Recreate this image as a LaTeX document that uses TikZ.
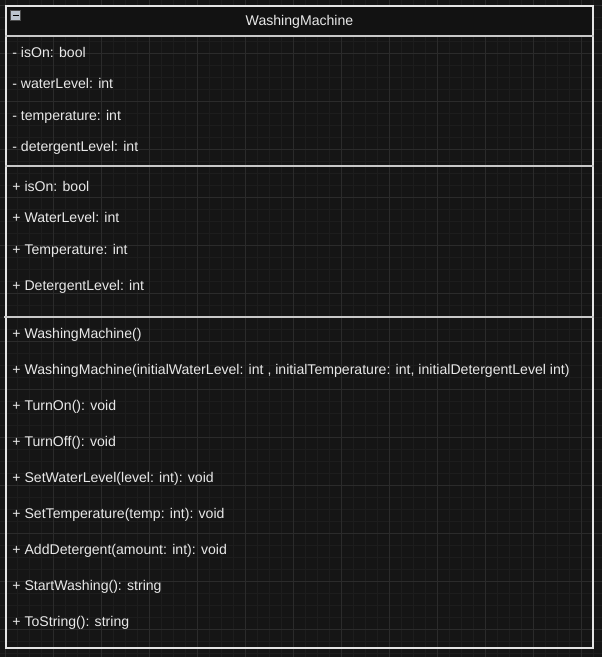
\documentclass[tikz,border=0pt]{standalone}
\usepackage{fontspec}
\setmainfont{Liberation Sans}
\usepackage{xcolor}
\definecolor{canvas}{HTML}{151515}
\definecolor{minorgrid}{HTML}{1D1D1D}
\definecolor{majorgrid}{HTML}{2B2B2B}
\definecolor{headfill}{HTML}{121212}
\definecolor{frame}{HTML}{E4E4E4}
\definecolor{divider}{HTML}{C8C8C8}
\definecolor{memtext}{HTML}{E8E8E8}
\definecolor{knob}{HTML}{BCC4CE}

\begin{document}
\begin{tikzpicture}[x=1pt,y=-1pt,
		member/.style={anchor=base west,inner sep=0pt,yshift=-5.5pt,text=memtext,font=\fontsize{14.1}{16}\selectfont},
		classname/.style={anchor=base,inner sep=0pt,yshift=-5.5pt,text=memtext,font=\fontsize{14.1}{16}\selectfont},
		divline/.style={divider,line width=1.6pt}]
		\fill [canvas] (0,0) rectangle (602,657);
		\draw [minorgrid,step=12pt,shift={(5,5)}] (-5,652) grid (597,-5);
		\draw [majorgrid,step=48pt,shift={(5,5)}] (-5,652) grid (597,-5);
		%
		\fill [headfill] (5,5) rectangle (594,36);
		\draw [frame,line width=2pt] (5.5,5.5) rectangle (593.5,648);
		\draw [divline] (5,36) -- (594,36);
		\draw [divline] (5,166) -- (594,166);
		\draw [divline] (4,317) -- (594,317);
		%
		\node [draw=black!70,fill=knob,minimum size=10pt,inner sep=0pt] (toggle) at (15.5,15.5) {};
		\draw [black,line width=1.4pt] ([xshift=2.2pt]toggle.west) -- ([xshift=-2.2pt]toggle.east);
		\node [classname] (className) at (299.5,20) {WashingMachine};
		%
		\node [member] (fieldIsOn) at (12,52) {- isOn: bool};
		\node [member] (fieldWater) at (12,83) {- waterLevel: int};
		\node [member] (fieldTemp) at (12,115) {- temperature: int};
		\node [member] (fieldDetergent) at (12,146) {- detergentLevel: int};
		%
		\node [member] (propIsOn) at (12,186) {+ isOn: bool};
		\node [member] (propWater) at (12,217) {+ WaterLevel: int};
		\node [member] (propTemp) at (12,249) {+ Temperature: int};
		\node [member] (propDetergent) at (12,285) {+ DetergentLevel: int};
		%
		\node [member] (ctorPlain) at (12,333) {+ WashingMachine()};
		\node [member] (ctorFull) at (12,369) {+ WashingMachine(initialWaterLevel: int , initialTemperature: int, initialDetergentLevel int)};
		\node [member] (opTurnOn) at (12,405) {+ TurnOn(): void};
		\node [member] (opTurnOff) at (12,441) {+ TurnOff(): void};
		\node [member] (opSetWater) at (12,477) {+ SetWaterLevel(level: int): void};
		\node [member] (opSetTemp) at (12,513) {+ SetTemperature(temp: int): void};
		\node [member] (opAddDetergent) at (12,549) {+ AddDetergent(amount: int): void};
		\node [member] (opStart) at (12,585) {+ StartWashing(): string};
		\node [member] (opToString) at (12,621) {+ ToString(): string};
	\end{tikzpicture}
\end{document}
